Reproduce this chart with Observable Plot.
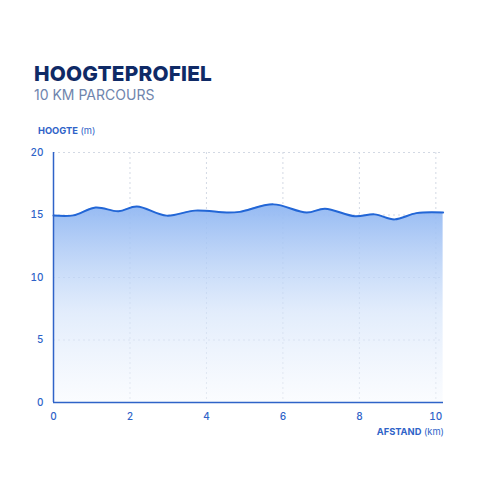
<!DOCTYPE html>
<html><head><meta charset="utf-8">
<script src="https://cdn.jsdelivr.net/npm/d3@7"></script>
<script src="https://cdn.jsdelivr.net/npm/@observablehq/plot@0.6"></script>
<style>
html,body{margin:0;padding:0;background:#fff;}
#wrap{position:relative;width:483px;height:483px;overflow:hidden;font-family:Inter,"Noto Sans",sans-serif;}
#title{position:absolute;left:34px;top:62px;font-size:20.8px;font-weight:800;color:#0f2a66;letter-spacing:0.2px;line-height:24px;}
#sub{position:absolute;left:34px;top:86px;font-size:14px;color:#6f85ad;line-height:18px;}
#ylab{position:absolute;left:38px;top:125px;font-size:9.3px;color:#2f63c8;}
#xlab{position:absolute;right:39px;top:426px;font-size:9.3px;color:#2f63c8;}
b{font-weight:700;}
#chart{position:absolute;left:0;top:120px;}
</style></head>
<body>
<div id="wrap">
  <div id="title">HOOGTEPROFIEL</div>
  <div id="sub">10 KM PARCOURS</div>
  <div id="ylab"><b>HOOGTE</b> (m)</div>
  <div id="xlab"><b>AFSTAND</b> (km)</div>
  <div id="chart"></div>
</div>
<script>
const distance = [0, 0.52, 1.1, 1.7, 2.18, 2.96, 3.7, 4.53, 4.87, 5.75, 6.62, 7.1, 7.88, 8.4, 8.92, 9.49, 10.19];
const elevation = [14.96, 14.97, 15.6, 15.3, 15.68, 14.95, 15.35, 15.2, 15.25, 15.85, 15.2, 15.5, 14.9, 15.05, 14.65, 15.15, 15.2];
const xTicks = [0, 2, 4, 6, 8, 10];
const yTicks = [0, 5, 10, 15, 20];

const data = distance.map((d, i) => ({km: d, m: elevation[i]}));
const blue = "#2f63c8";
const chart = Plot.plot({
  width: 483, height: 320,
  marginLeft: 53, marginRight: 40, marginTop: 32, marginBottom: 38,
  style: {fontFamily: "Inter, 'Noto Sans', sans-serif", fontSize: "10px", color: blue, background: "transparent"},
  x: {domain: [0, 10.2], ticks: xTicks, label: null},
  y: {domain: [0, 20], ticks: yTicks, label: null},
  marks: [
    Plot.gridX(xTicks.filter(d => d > 0), {stroke: "#d3d9e4", strokeOpacity: 1, strokeDasharray: "2,3"}),
    Plot.gridY(yTicks.filter(d => d > 0), {stroke: "#d3d9e4", strokeOpacity: 1, strokeDasharray: "2,3"}),
    Plot.areaY(data, {x: "km", y: "m", fill: "url(#elevGrad)", curve: "catmull-rom"}),
    Plot.lineY(data, {x: "km", y: "m", stroke: "#2266d6", strokeWidth: 2, curve: "catmull-rom"}),
    Plot.axisX({ticks: xTicks, tickSize: 0, tickPadding: 10, fill: blue, fontWeight: 500}),
    Plot.axisY({ticks: yTicks, tickSize: 0, tickPadding: 10, fill: blue, fontWeight: 500}),
    Plot.ruleX([0], {stroke: blue, strokeWidth: 1.5}),
    Plot.ruleY([0], {stroke: blue, strokeWidth: 1.5})
  ]
});
const svg = d3.select(chart);
const defs = svg.insert("defs", ":first-child");
const g = defs.append("linearGradient").attr("id", "elevGrad").attr("x1", 0).attr("y1", 0).attr("x2", 0).attr("y2", 1);
g.append("stop").attr("offset", "0%").attr("stop-color", "#8fb6f2").attr("stop-opacity", 0.95);
g.append("stop").attr("offset", "55%").attr("stop-color", "#d3e3fa").attr("stop-opacity", 0.65);
g.append("stop").attr("offset", "100%").attr("stop-color", "#f6f9fe").attr("stop-opacity", 0.5);
document.getElementById("chart").appendChild(chart);
</script>
</body></html>
